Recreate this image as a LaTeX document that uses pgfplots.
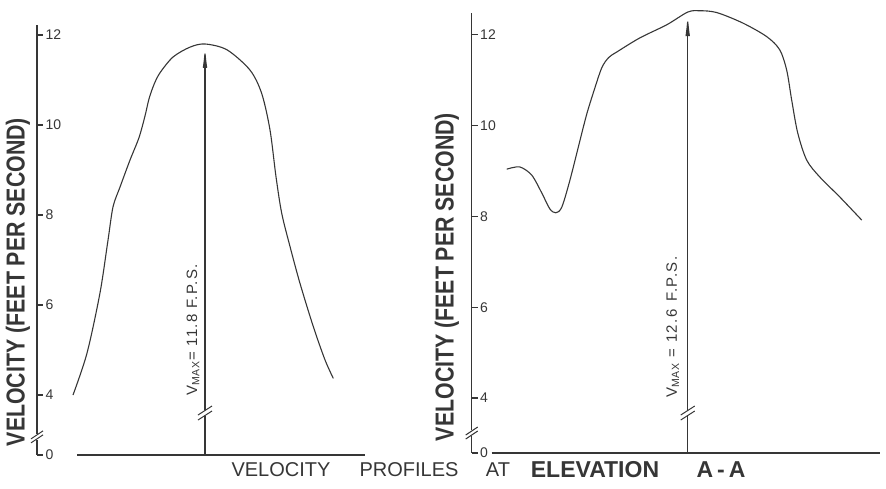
\documentclass[border=0pt]{standalone}
\usepackage{pgfplots}
\pgfplotsset{compat=1.18}
\usepackage{fontspec}
\setmainfont{Liberation Sans}
\newfontfamily\lblfont[FakeStretch=0.82]{Liberation Sans}
\newfontfamily\vfont[LetterSpace=9]{Liberation Sans}
\usetikzlibrary{arrows.meta}

\definecolor{ink}{HTML}{363636}

\pgfplotsset{
  prof/.style={
    scale only axis, clip=false, anchor=south west,
    axis x line*=bottom, axis y line*=left,
    axis line style={ink, line width=1.4pt, -},
    xtick=\empty,
    tick align=inside, major tick length=6pt,
    ytick style={ink, line width=1.2pt},
    yticklabel style={anchor=west, xshift=5pt, text=ink,
      font=\fontsize{14}{14}\selectfont},
    /pgf/number format/assume math mode=true,
  },
  curve/.style={ink, line width=1.1pt, smooth, tension=0.5},
  vmax/.style={ink, line width=1.2pt, -{Latex[length=24pt,width=4.5pt]}},
}

\begin{document}
\begin{tikzpicture}[x=1pt,y=1pt]
\useasboundingbox (0,0) rectangle (886,489);

% left profile
\begin{axis}[prof, at={(37pt,34pt)}, width=328pt, height=430pt,
  xmin=0, xmax=328, ymin=2.667, ymax=12.222,
  x axis line style={shorten <=40pt},
  ytick={2.667,4,6,8,10,12}, yticklabels={0,4,6,8,10,12}]
\addplot[curve] coordinates {
  (36,4.0) (50,4.93) (63,6.27) (71,7.44) (76,8.18) (83,8.62) (93,9.22)
  (102,9.72) (108,10.2) (112,10.58) (117,10.9) (123,11.16)
  (136,11.51) (153,11.73) (168,11.80) (190,11.67) (213,11.22) (224.7,10.70)
  (233,9.89) (239,8.85) (244.7,8.04) (253,7.30) (263,6.48) (276.3,5.52)
  (288,4.78) (296.3,4.37)};
\addplot[vmax] coordinates {(168,2.667) (168,11.80)};
% breaks
\fill[white] ([shift={(-8pt,-3pt)}]axis cs:0,3.07) rectangle ++(16pt,6pt);
\draw[ink, line width=1pt] ([shift={(-6pt,-6pt)}]axis cs:0,3.07) -- ++(12pt,8pt);
\draw[ink, line width=1pt] ([shift={(-6pt,-2pt)}]axis cs:0,3.07) -- ++(12pt,8pt);
\fill[white] ([shift={(-8pt,-3pt)}]axis cs:168,3.6) rectangle ++(16pt,6pt);
\draw[ink, line width=1pt] ([shift={(-7pt,-7pt)}]axis cs:168,3.6) -- ++(14pt,9pt);
\draw[ink, line width=1pt] ([shift={(-7pt,-2pt)}]axis cs:168,3.6) -- ++(14pt,9pt);
\node[rotate=90, anchor=west, text=ink, font=\vfont\fontsize{15}{15}\selectfont]
  at (axis cs:156,3.9) {V\textsubscript{MAX}= 11.8 F.P.S.};
\end{axis}

% right profile
\begin{axis}[prof, at={(471.7pt,36pt)}, width=408pt, height=440pt,
  xmin=0, xmax=408, ymin=2.79, ymax=12.48,
  x axis line style={shorten <=20pt},
  ytick={2.79,4,6,8,10,12}, yticklabels={0,4,6,8,10,12}]
\addplot[curve] coordinates {
  (35,9.04) (48,9.09) (60,8.91) (70,8.52) (78,8.17) (84,8.08) (90,8.20)
  (98,8.78) (108,9.65) (115,10.25) (122,10.75) (130,11.27) (137,11.50)
  (145,11.62) (168,11.93) (195,12.22) (216,12.50) (228,12.53) (245,12.49)
  (271,12.26) (295,11.96) (308,11.67) (315,11.22) (320,10.56) (326,9.84)
  (335,9.24) (348,8.87) (368,8.43) (390,7.92)};
\addplot[vmax] coordinates {(216,2.79) (216,12.50)};
\fill[white] ([shift={(-8pt,-3pt)}]axis cs:0,3.23) rectangle ++(16pt,6pt);
\draw[ink, line width=1pt] ([shift={(-6pt,-6pt)}]axis cs:0,3.23) -- ++(12pt,8pt);
\draw[ink, line width=1pt] ([shift={(-6pt,-2pt)}]axis cs:0,3.23) -- ++(12pt,8pt);
\fill[white] ([shift={(-8pt,-3pt)}]axis cs:216,3.67) rectangle ++(16pt,6pt);
\draw[ink, line width=1pt] ([shift={(-7pt,-7pt)}]axis cs:216,3.67) -- ++(14pt,9pt);
\draw[ink, line width=1pt] ([shift={(-7pt,-2pt)}]axis cs:216,3.67) -- ++(14pt,9pt);
\node[rotate=90, anchor=west, text=ink, font=\vfont\fontsize{15}{15}\selectfont]
  at (axis cs:201,3.93) {V\textsubscript{MAX} = 12.6\, F.P.S.};
\end{axis}

% axis titles and caption
\node[rotate=90, text=ink, font=\lblfont\bfseries\fontsize{26}{26}\selectfont]
  at (18,207) {VELOCITY (FEET PER SECOND)};
\node[rotate=90, text=ink, font=\lblfont\bfseries\fontsize{26}{26}\selectfont]
  at (447,212) {VELOCITY (FEET PER SECOND)};
\begin{scope}[every node/.style={text=ink, font=\fontsize{20}{20}\selectfont}]
\node at (281,19) {VELOCITY};
\node at (409,19) {PROFILES};
\node at (498,19) {AT};
\node[font=\bfseries\fontsize{23}{23}\selectfont] at (595,19) {ELEVATION};
\node[font=\bfseries\fontsize{23}{23}\selectfont] at (721,19) {A\hspace{4pt}-\hspace{4pt}A};
\end{scope}
\end{tikzpicture}
\end{document}
